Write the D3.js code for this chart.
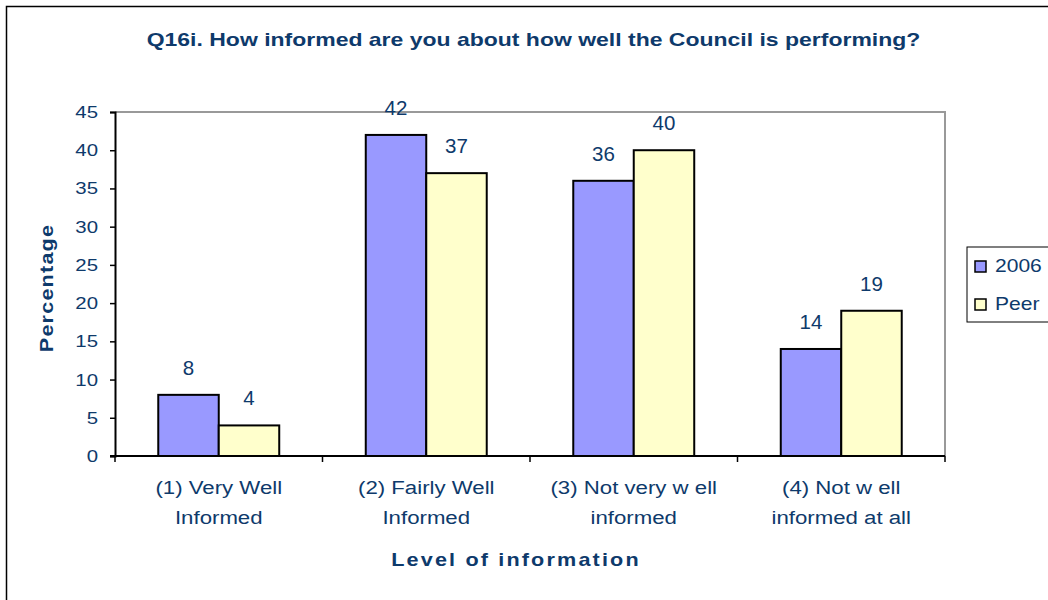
<!DOCTYPE html>
<html>
<head>
<meta charset="utf-8">
<script src="https://cdn.jsdelivr.net/npm/d3@7"></script>
<style>
  html, body { margin: 0; padding: 0; background: #fff; }
  svg { display: block; }
  text { font-family: "Liberation Sans", Arial, sans-serif; fill: #0e3a6b; }
</style>
</head>
<body>
<svg id="chart" width="1048" height="600"></svg>
<script>
// Survey results: share of respondents by level of information
const categories = [
  ["(1) Very Well", "Informed"],
  ["(2) Fairly Well", "Informed"],
  ["(3) Not very w ell", "informed"],
  ["(4) Not w ell", "informed at all"]
];
const seriesNames = ["2006", "Peer"];
const values2006 = [8, 42, 36, 14];
const valuesPeer = [4, 37, 40, 19];
const yTicks = [0, 5, 10, 15, 20, 25, 30, 35, 40, 45];
const seriesColors = ["#9999ff", "#ffffcc"];

const titleText = "Q16i. How informed are you about how well the Council is performing?";
const yTitle = "Percentage";
const xTitle = "Level of information";

// text is drawn slightly widened horizontally
const WIDEN = 1.2;

const svg = d3.select("#chart");
const plot = { left: 115, right: 945, top: 112, bottom: 456 };

// place a widened text at (x, y), optionally rotated
function wideText(parent, x, y, sx, rotate) {
  const rot = rotate ? ` rotate(${rotate})` : "";
  return parent.append("text")
    .attr("transform", `translate(${x},${y})${rot} scale(${sx},1)`);
}

// outer chart frame
svg.append("rect")
  .attr("x", 6.5).attr("y", 6.5)
  .attr("width", 1100).attr("height", 650)
  .attr("fill", "none").attr("stroke", "#000").attr("stroke-width", 1.5);

const catIdx = d3.range(categories.length);
const x0 = d3.scaleBand()
  .domain(catIdx)
  .range([plot.left, plot.right])
  .paddingInner(0.417)
  .paddingOuter(0.2085);
const x1 = d3.scaleBand()
  .domain(seriesNames)
  .range([0, x0.bandwidth()]);
const y = d3.scaleLinear().domain([0, 45]).range([plot.bottom, plot.top]);

// plot area border (top and right)
svg.append("path")
  .attr("d", `M${plot.left},${plot.top}H${plot.right}V${plot.bottom}`)
  .attr("fill", "none").attr("stroke", "#999").attr("stroke-width", 2);

// title
wideText(svg, 533.5, 45.5, 1.21)
  .attr("text-anchor", "middle")
  .attr("font-size", 19).attr("font-weight", "bold")
  .text(titleText);

// bars
const data = catIdx.map(i => ({ i, vals: [values2006[i], valuesPeer[i]] }));
const groups = svg.append("g").selectAll("g")
  .data(data).join("g")
  .attr("transform", d => `translate(${x0(d.i)},0)`);

groups.selectAll("rect")
  .data(d => d.vals.map((v, k) => ({ v, k })))
  .join("rect")
  .attr("x", d => x1(seriesNames[d.k]))
  .attr("y", d => y(d.v))
  .attr("width", x1.bandwidth())
  .attr("height", d => y(0) - y(d.v))
  .attr("fill", d => seriesColors[d.k])
  .attr("stroke", "#000").attr("stroke-width", 2);

groups.selectAll("text.val")
  .data(d => d.vals.map((v, k) => ({ v, k })))
  .join("text")
  .attr("class", "val")
  .attr("x", d => x1(seriesNames[d.k]) + x1.bandwidth() / 2)
  .attr("y", d => y(d.v) - 20)
  .attr("text-anchor", "middle")
  .attr("font-size", 20.5)
  .text(d => d.v);

// y axis
const yAxis = d3.axisLeft(y).tickValues(yTicks).tickSize(5);
const gy = svg.append("g").attr("transform", `translate(${plot.left},0)`).call(yAxis);
gy.select(".domain").attr("stroke", "#000").attr("stroke-width", 2);
gy.selectAll(".tick line").attr("stroke", "#000").attr("stroke-width", 1.5);
gy.selectAll(".tick text")
  .attr("x", -17 / WIDEN)
  .attr("transform", `scale(${WIDEN},1)`)
  .attr("font-size", 17)
  .attr("font-family", "Liberation Sans, Arial, sans-serif")
  .attr("fill", "#0e3a6b");

// x axis: ticks at category boundaries
const boundaries = d3.range(categories.length + 1).map(i => plot.left + i * x0.step());
const gx = svg.append("g");
gx.append("line")
  .attr("x1", plot.left - 5).attr("x2", plot.right)
  .attr("y1", plot.bottom).attr("y2", plot.bottom)
  .attr("stroke", "#000").attr("stroke-width", 2);
gx.selectAll("line.tk").data(boundaries).join("line")
  .attr("class", "tk")
  .attr("x1", d => d).attr("x2", d => d)
  .attr("y1", plot.bottom).attr("y2", plot.bottom + 6)
  .attr("stroke", "#000").attr("stroke-width", 1.5);

data.forEach(d => {
  const t = wideText(gx, x0(d.i) + x0.bandwidth() / 2, 494, 1.17)
    .attr("text-anchor", "middle")
    .attr("font-size", 19);
  t.selectAll("tspan")
    .data(categories[d.i])
    .join("tspan")
    .attr("x", 0)
    .attr("dy", (s, k) => k === 0 ? 0 : 30)
    .text(s => s);
});

// axis titles
wideText(svg, 516, 566, WIDEN)
  .attr("text-anchor", "middle")
  .attr("font-size", 18).attr("font-weight", "bold")
  .attr("letter-spacing", 1.8)
  .text(xTitle);

wideText(svg, 53, 288, WIDEN, -90)
  .attr("text-anchor", "middle")
  .attr("font-size", 18).attr("font-weight", "bold")
  .attr("letter-spacing", 1)
  .text(yTitle);

// legend
const legend = svg.append("g");
legend.append("rect")
  .attr("x", 967).attr("y", 247)
  .attr("width", 120).attr("height", 75)
  .attr("fill", "#fff").attr("stroke", "#000").attr("stroke-width", 1);
const items = legend.selectAll("g.item").data(seriesNames).join("g")
  .attr("class", "item")
  .attr("transform", (d, k) => `translate(975,${261 + k * 38})`);
items.append("rect")
  .attr("width", 11).attr("height", 11)
  .attr("fill", (d, k) => seriesColors[k])
  .attr("stroke", "#000").attr("stroke-width", 1.5);
items.append("text")
  .attr("transform", "translate(20,11) scale(1.17,1)")
  .attr("font-size", 18)
  .text(d => d);
</script>
</body>
</html>
